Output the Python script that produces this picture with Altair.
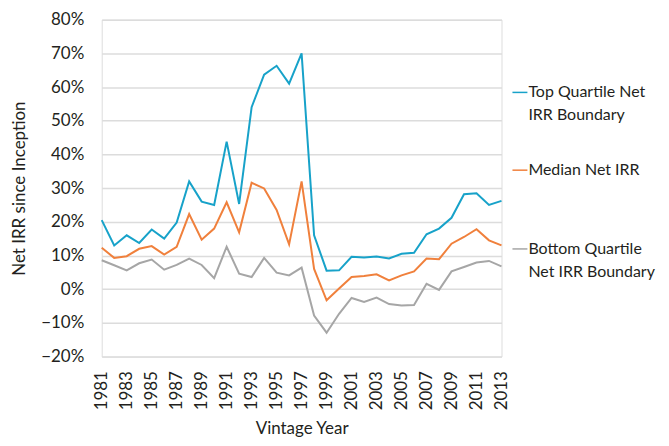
import altair as alt
import pandas as pd

years = list(range(1981, 2014))
top_quartile = [20.5, 13.0, 16.0, 13.7, 17.7, 15.0, 19.8, 32.0, 26.0, 25.0, 43.8, 25.3,
                54.0, 63.7, 66.3, 61.0, 70.0, 16.0, 5.5, 5.6, 9.6, 9.4, 9.7, 9.1,
                10.5, 10.8, 16.3, 18.0, 21.2, 28.2, 28.5, 25.0, 26.2]
median = [12.3, 9.3, 9.8, 12.0, 12.8, 10.3, 12.6, 22.3, 14.7, 18.0, 25.8, 16.9,
          31.6, 29.9, 23.5, 13.3, 32.0, 6.0, -3.3, 0.2, 3.6, 3.9, 4.4, 2.6,
          4.1, 5.3, 9.1, 8.9, 13.5, 15.5, 17.8, 14.5, 13.0]
bottom_quartile = [8.6, 7.1, 5.6, 7.7, 8.8, 5.8, 7.2, 9.1, 7.2, 3.3, 12.6, 4.6,
                   3.6, 9.3, 4.9, 4.1, 6.4, -7.8, -12.9, -7.3, -2.6, -3.8, -2.5, -4.4,
                   -4.8, -4.7, 1.6, -0.2, 5.3, 6.6, 7.9, 8.4, 6.8]
series_names = ["Top Quartile Net IRR Boundary", "Median Net IRR", "Bottom Quartile Net IRR Boundary"]
colors = ["#17a2c9", "#f0803c", "#a6a6a6"]
legend_lines = [["Top Quartile Net", "IRR Boundary"], ["Median Net IRR"], ["Bottom Quartile", "Net IRR Boundary"]]

rows = []
for name, vals in zip(series_names, [top_quartile, median, bottom_quartile]):
    for y, v in zip(years, vals):
        rows.append({"year": y, "irr": v / 100.0, "series": name})
df = pd.DataFrame(rows)

FONT = "Lato"
TXT = "#231f20"

color_scale = alt.Scale(domain=series_names, range=colors)

lines = alt.Chart(df).mark_line(strokeWidth=2).encode(
    x=alt.X("year:Q", scale=alt.Scale(domain=[1981, 2013], nice=False, zero=False),
            axis=alt.Axis(values=list(range(1981, 2014, 2)), format="d", labelAngle=-90,
                          grid=False, ticks=False, domain=False, labelPadding=14,
                          labelFontSize=17, labelColor=TXT, labelFont=FONT,
                          title="Vintage Year", titleFontSize=17, titleFont=FONT,
                          titleFontWeight="normal", titleColor=TXT, titlePadding=11)),
    y=alt.Y("irr:Q", scale=alt.Scale(domain=[-0.2, 0.8], nice=False),
            axis=alt.Axis(values=[i / 10 for i in range(-2, 9)], format=".0%",
                          grid=True, gridColor="#dcdcdc", gridWidth=1.5,
                          ticks=False, domain=False, labelPadding=18,
                          labelFontSize=17, labelColor=TXT, labelFont=FONT,
                          title="Net IRR since Inception", titleFontSize=17, titleFont=FONT,
                          titleFontWeight="normal", titleColor=TXT, titlePadding=12)),
    color=alt.Color("series:N", scale=color_scale, legend=None),
    order=alt.Order("year:Q"),
)

# legend annotation
leg_rows = []
text_rows = []
first_y = [73, 151, 230]
for name, ly, tl in zip(series_names, first_y, legend_lines):
    leg_rows.append({"series": name, "px": 412, "px2": 427, "py": ly})
    for i, t in enumerate(tl):
        text_rows.append({"series": name, "label": t, "px": 428, "py": ly + i * 23})
leg_df = pd.DataFrame(leg_rows)
txt_df = pd.DataFrame(text_rows)

leg_rules = alt.Chart(leg_df).mark_rule(strokeWidth=1.5).encode(
    x=alt.X("px:Q", scale=None), x2="px2:Q", y=alt.Y("py:Q", scale=None),
    color=alt.Color("series:N", scale=color_scale, legend=None),
)
leg_text = alt.Chart(txt_df).mark_text(align="left", baseline="middle", fontSize=16,
                                       font=FONT, color=TXT).encode(
    x=alt.X("px:Q", scale=None), y=alt.Y("py:Q", scale=None), text="label:N",
)

chart = alt.layer(lines, leg_rules, leg_text).properties(
    width=401, height=338,
    autosize=alt.AutoSizeParams(type="none"),
    padding={"left": 94, "top": 11, "right": 160, "bottom": 88},
).configure_view(stroke=None).configure(background="white")

chart.save("out.html", embed_options={"renderer": "svg", "actions": False})
